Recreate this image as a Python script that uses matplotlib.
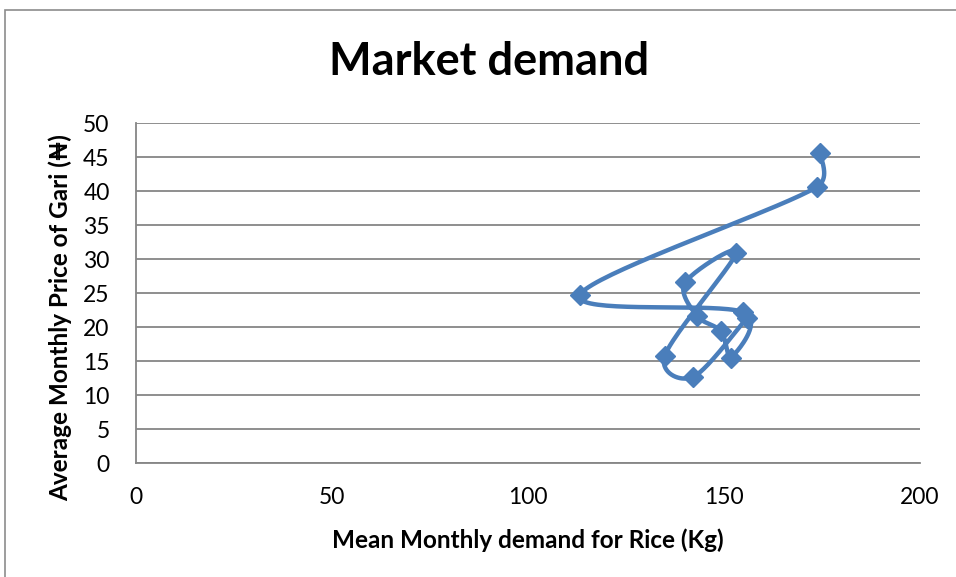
import matplotlib
matplotlib.use("Agg")
import matplotlib.pyplot as plt
from matplotlib.patches import Rectangle
import numpy as np

# monthly observations, in the order they are joined
demand = [174.6, 173.6, 113.3, 154.9, 151.8, 149.2, 143.0, 140.1, 153.1, 134.9, 142.2, 155.9]
price = [45.7, 40.6, 24.8, 22.2, 15.5, 19.4, 21.7, 26.6, 30.9, 15.8, 12.7, 21.4]

x_ticks = [0, 50, 100, 150, 200]
y_ticks = list(range(0, 55, 5))

blue = "#4A7EBB"
grid_col = "#868686"
fams = ["Lato", "DejaVu Sans"]

W, H = 956, 577
fig = plt.figure(figsize=(W / 100, H / 100), dpi=100)
left, right, top, bottom = 136, 920, 123.3, 463
ax = fig.add_axes([left / W, 1 - bottom / H, (right - left) / W, (bottom - top) / H])

# chart border
fig.patches.append(Rectangle((5 / W, -0.1), 1.1, 1 - 10 / H + 0.1, transform=fig.transFigure,
                             fill=False, edgecolor="#8c8c8c", linewidth=1.2))

ax.set_xlim(0, 200)
ax.set_ylim(0, 50)


def smooth(xs, ys, sx, sy, n=40):
    # excel-like smoothed line, worked out in screen units
    p = np.column_stack([np.array(xs) * sx, np.array(ys) * sy])
    out = []
    for i in range(len(p) - 1):
        p0 = p[i - 1] if i > 0 else p[i]
        p3 = p[i + 2] if i + 2 < len(p) else p[i + 1]
        seg_len = np.linalg.norm(p[i + 1] - p[i])
        h1 = (p[i + 1] - p0) / 6
        h2 = (p3 - p[i]) / 6
        # keep handles short on tiny segments
        for h in (h1, h2):
            L = np.linalg.norm(h)
            if L > 0.5 * seg_len:
                h *= 0.5 * seg_len / L
        c1 = p[i] + h1
        c2 = p[i + 1] - h2
        t = np.linspace(0, 1, n)[:, None]
        seg = ((1 - t) ** 3 * p[i] + 3 * (1 - t) ** 2 * t * c1
               + 3 * (1 - t) * t ** 2 * c2 + t ** 3 * p[i + 1])
        out.append(seg)
    out = np.vstack(out)
    return out[:, 0] / sx, out[:, 1] / sy


sx = (right - left) / 200
sy = (bottom - top) / 50
cx, cy = smooth(demand, price, sx, sy)
ax.plot(cx, cy, color=blue, linewidth=3.2, solid_capstyle="round",
        solid_joinstyle="round", zorder=3)
ax.plot(demand, price, linestyle="none", marker="D", markersize=10.5,
        color=blue, zorder=4)

ax.set_yticks(y_ticks)
ax.set_xticks(x_ticks)
ax.yaxis.grid(True, color=grid_col, linewidth=1.3)
ax.set_axisbelow(True)
for s in ["top", "right"]:
    ax.spines[s].set_visible(False)
for s in ["left", "bottom"]:
    ax.spines[s].set_color(grid_col)
    ax.spines[s].set_linewidth(1.3)
ax.tick_params(axis="both", length=0, labelsize=16.5)
ax.tick_params(axis="x", pad=17)
ax.tick_params(axis="y", pad=19)
for lab in ax.get_xticklabels() + ax.get_yticklabels():
    lab.set_family(fams)

fig.text(60 / W, 1 - 318 / H, "Average Monthly Price of Gari (\u20a6)", fontsize=17.5,
         fontweight="bold", family=fams, rotation=90, ha="center", va="center")
fig.text(528 / W, 1 - 540 / H, "Mean Monthly demand for Rice (Kg)", fontsize=17.5,
         fontweight="bold", family=fams, ha="center", va="center")
fig.text(489 / W, 1 - 62 / H, "Market demand", fontsize=32.5, fontweight="bold",
         family=fams, ha="center", va="center")

fig.savefig("out.png", dpi=100)
